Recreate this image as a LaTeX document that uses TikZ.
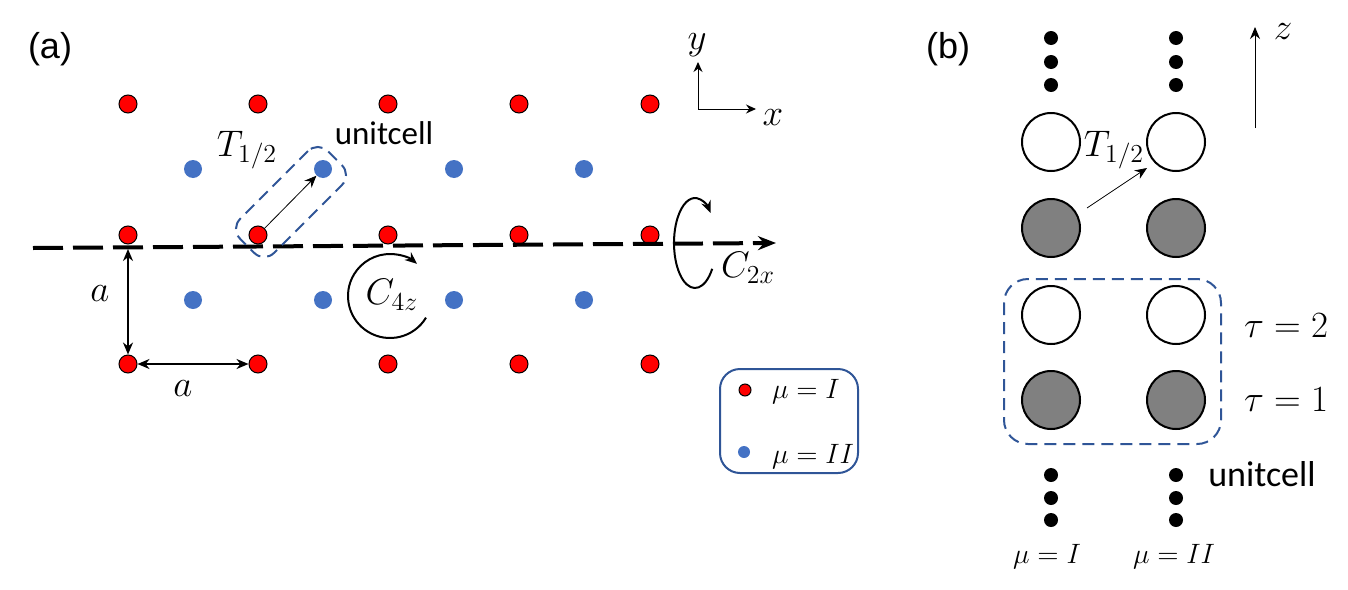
\RequirePackage{fix-cm}
\documentclass[tikz,border=0pt]{standalone}
\usepackage{amsmath}
\usepackage{fontspec}
\usetikzlibrary{arrows.meta,positioning}
\newfontfamily\panelfont{Liberation Sans}
\newfontfamily\cellfont{Carlito}
\definecolor{siteblue}{HTML}{4472C4}
\definecolor{cellblue}{HTML}{2F5597}

\begin{document}
\begin{tikzpicture}[
        x=0.5pt, y=-0.5pt,
        red_site/.style={circle, draw, line width=0.5pt, fill=red, minimum size=9pt, inner sep=0pt},
        blue_site/.style={circle, fill=siteblue, minimum size=9pt, inner sep=0pt},
        light_atom/.style={circle, draw, line width=1pt, fill=white, minimum size=29pt, inner sep=0pt},
        dark_atom/.style={circle, draw, line width=1pt, fill=gray, minimum size=29pt, inner sep=0pt},
        chain_dot/.style={circle, fill=black, minimum size=7pt, inner sep=0pt},
        cell_box/.style={draw=cellblue, line width=1pt, dash pattern=on 6pt off 3.5pt},
        math_label/.style={font=\fontsize{18.5}{22}\selectfont},
        panel_label/.style={font=\panelfont\fontsize{18}{21}\selectfont},
        sym_arrow/.style={line width=1pt, -{Stealth[length=6pt, width=5pt]}}
    ]
        \useasboundingbox (0,0) rectangle (1348,589);

        % Panel labels
        \node[panel_label] (label_a) at (50,49) {(a)};
        \node[panel_label] (label_b) at (948,49) {(b)};

        % Square lattice of sublattice I (red) and II (blue)
        \foreach \row/\y in {1/104, 2/235, 3/364} {
            \foreach \col/\x in {1/128, 2/258, 3/388, 4/519, 5/650} {
                \node[red_site] (red_\row_\col) at (\x,\y) {};
            }
        }
        \foreach \row/\y in {1/169, 2/300} {
            \foreach \col/\x in {1/193, 2/323, 3/454, 4/584} {
                \node[blue_site] (blue_\row_\col) at (\x,\y) {};
            }
        }

        % C_2x axis
        \coordinate (axis_start) at (33,248);
        \coordinate (axis_end) at (776,243);
        \draw[line width=2pt, dash pattern=on 15pt off 5pt, -{Stealth[length=9pt, width=7pt]}] (axis_start) -- (axis_end);

        % Unit cell and half translation
        \node[cell_box, rounded corners=7pt, rotate=45, minimum width=62pt, minimum height=24pt] (cell_a) at (291,202) {};
        \draw[line width=0.4pt, -{Stealth[length=6pt, width=5pt]}] (red_2_2) -- (blue_1_2);
        \node[math_label] (half_a) at (247,150) {$T_{1/2}$};
        \node[font=\cellfont\fontsize{16.5}{19}\selectfont] (cell_a_text) at (384,133) {unitcell};

        % Lattice constant
        \draw[line width=1pt, {Stealth[length=6pt, width=5pt]}-{Stealth[length=6pt, width=5pt]}] (128,249) -- (red_3_1);
        \draw[line width=1pt, {Stealth[length=6pt, width=5pt]}-{Stealth[length=6pt, width=5pt]}] (red_3_1) -- (red_3_2);
        \node[math_label] (a_vert) at (100,294) {$a$};
        \node[math_label] (a_horiz) at (183,389) {$a$};

        % Rotations
        \draw[sym_arrow] ([shift={(31:42)}]390,296) arc[start angle=31, end angle=310, radius=42];
        \node[math_label] (rot_c4) at (392,295) {$C_{4z}$};
        \draw[sym_arrow] ([shift={(35:21 and 45)}]695,243) arc[start angle=35, end angle=318, x radius=21, y radius=45];
        \node[math_label] (rot_c2) at (748,268) {$C_{2x}$};

        % Coordinate axes
        \coordinate (origin) at (698,109);
        \coordinate (x_tip) at (756,109);
        \coordinate (y_tip) at (698,62);
        \draw[line width=0.5pt, -{Stealth[length=5pt, width=4.5pt]}] (origin) -- (x_tip);
        \draw[line width=0.5pt, -{Stealth[length=5pt, width=4.5pt]}] (origin) -- (y_tip);
        \node[math_label] (x_text) at (773,118) {$x$};
        \node[math_label] (y_text) at (697,45) {$y$};

        % Legend
        \draw[draw=cellblue, line width=1pt, rounded corners=10pt] (720,369) rectangle (858,473);
        \node[red_site, minimum size=6pt] (key_red) at (745,390) {};
        \node[blue_site, minimum size=6pt] (key_blue) at (744,452) {};
        \node[anchor=west, font=\fontsize{14}{16}\selectfont] (key_red_text) at (765,392) {$\mu=I$};
        \node[anchor=west, font=\fontsize{14}{16}\selectfont] (key_blue_text) at (765,457) {$\mu=II$};

        % Panel (b): two chains along z
        \foreach \col/\x in {1/1051, 2/1176} {
            \node[light_atom] (top_light_\col) at (\x,142) {};
            \node[dark_atom] (top_dark_\col) at (\x,228) {};
            \node[light_atom] (cell_light_\col) at (\x,315) {};
            \node[dark_atom] (cell_dark_\col) at (\x,400) {};
            \foreach \k/\y in {1/38, 2/62, 3/85} {
                \node[chain_dot] (up_dot_\col_\k) at (\x,\y) {};
            }
            \foreach \k/\y in {1/475, 2/498, 3/520} {
                \node[chain_dot] (down_dot_\col_\k) at (\x,\y) {};
            }
        }

        % Half translation between chains
        \draw[line width=0.4pt, -{Stealth[length=6pt, width=5pt]}] (1087,208) -- (1147,168);
        \node[math_label] (half_b) at (1114,150) {$T_{1/2}$};

        % z direction
        \coordinate (z_start) at (1255,128);
        \coordinate (z_tip) at (1255,27);
        \draw[line width=0.5pt, -{Stealth[length=6pt, width=5pt]}] (z_start) -- (z_tip);
        \node[math_label] (z_text) at (1283,32) {$z$};

        % Unit cell of panel (b)
        \draw[cell_box, rounded corners=12pt] (1004,279) rectangle (1221,444);
        \node[math_label] (tau_two) at (1286,326) {$\tau=2$};
        \node[math_label] (tau_one) at (1286,400) {$\tau=1$};
        \node[font=\cellfont\fontsize{18}{21}\selectfont] (cell_b_text) at (1262,474) {unitcell};
        \node[font=\fontsize{14}{16}\selectfont] (mu_one) at (1047,557) {$\mu=I$};
        \node[font=\fontsize{14}{16}\selectfont] (mu_two) at (1174,557) {$\mu=II$};

    \end{tikzpicture}
\end{document}
